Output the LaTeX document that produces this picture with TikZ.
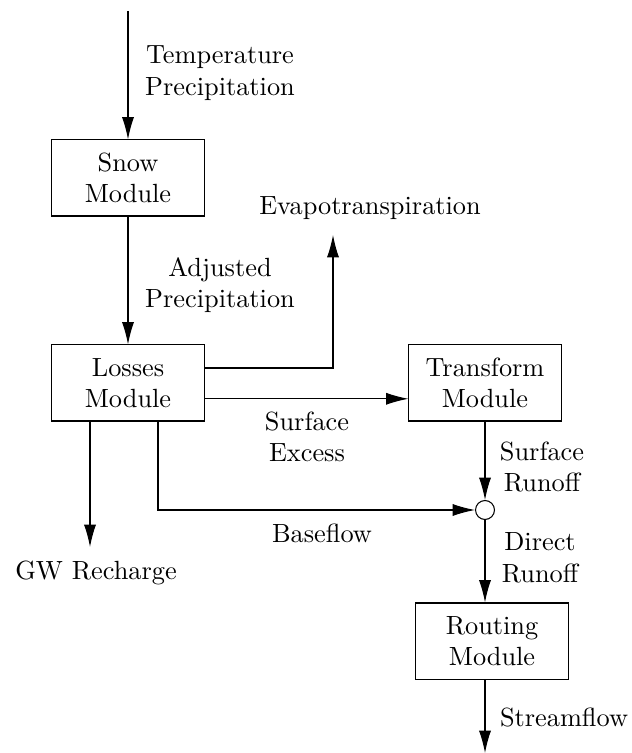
\documentclass[tikz,border=0pt]{standalone}
\usepackage{tikz}
\usetikzlibrary{positioning,arrows.meta}
\tikzset{
  module/.style={shape=rectangle,draw,align=center,inner sep=0pt,
    minimum width=57.8pt,minimum height=28.9pt},
  junction/.style={shape=circle,draw,fill=white,inner sep=0pt,
    minimum size=7.2pt},
  flow/.style={-{Latex[length=8.5pt,width=4.6pt]}},
  flowlabel/.style={align=center,inner sep=0pt}
}
\begin{document}
\begin{tikzpicture}[x=0.38pt,y=-0.38pt]
    \useasboundingbox (0,0) rectangle (631,753);
    % boxes
    \node (snow) [module] at (128,178) {Snow\\Module};
    \node (losses) [module] at (128,383) {Losses\\Module};
    \node (transform) [module] at (485,383) {Transform\\Module};
    \node (routing) [module] at (492,641) {Routing\\Module};
    \node (sum) [junction] at (485,510) {};
    % free ends
    \coordinate (in) at (128,11);
    \coordinate (et) at (333,235);
    \coordinate (gw) at (90,547);
    \coordinate (out) at (485,753);
    % connectors
    \draw [flow] (in) -- (snow);
    \draw [flow] (snow) -- (losses);
    \draw [flow] ([yshift=5.7pt]losses.east) -| (et);
    \draw [flow] ([yshift=-6pt]losses.east) -- ([yshift=-6pt]transform.west);
    \draw [flow] (losses.south -| gw) -- (gw);
    \draw [flow] ([xshift=11.4pt]losses.south) |- (sum);
    \draw [flow] (transform) -- (sum);
    \draw [flow] (sum) -- (sum |- routing.north);
    \draw [flow] (routing.south -| sum) -- (out);
    % labels
    \node (ltemp) [flowlabel] at (220,73) {Temperature\\Precipitation};
    \node (ladj) [flowlabel] at (220,285) {Adjusted\\Precipitation};
    \node (levap) [flowlabel] at (370,208) {Evapotranspiration};
    \node (lexcess) [flowlabel] at (307,437) {Surface\\Excess};
    \node (lsurf) [flowlabel] at (542,467) {Surface\\Runoff};
    \node (lbase) [flowlabel] at (322,533) {Baseflow};
    \node (lgw) [flowlabel] at (96,573) {GW Recharge};
    \node (ldirect) [flowlabel] at (540,558) {Direct\\Runoff};
    \node (lstream) [flowlabel] at (564,718) {Streamflow};
\end{tikzpicture}
\end{document}
